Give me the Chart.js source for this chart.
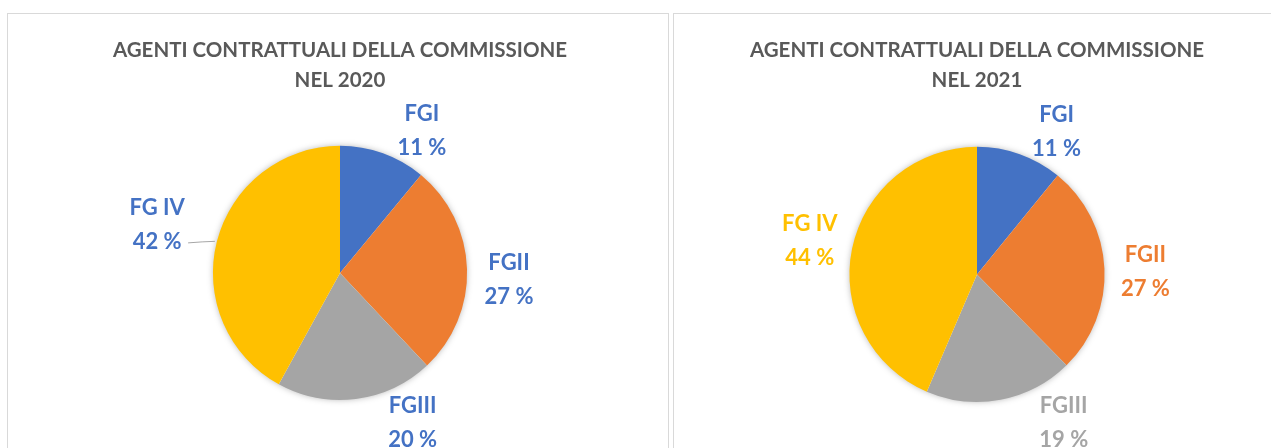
<!DOCTYPE html>
<html>
<head>
<meta charset="utf-8">
<script src="https://cdn.jsdelivr.net/npm/chart.js@4/dist/chart.umd.min.js"></script>
<style>
  body { margin: 0; background: #fff; width: 1271px; height: 448px; overflow: hidden; position: relative; }
  .pannello { position: absolute; top: 13px; height: 450px; border: 1px solid #d9d9d9; background: #fff; }
  #p2020 { left: 7px; width: 660px; }
  #p2021 { left: 673px; width: 620px; }
  canvas { position: absolute; left: 0; top: 0; }
</style>
</head>
<body>
<div class="pannello" id="p2020"><canvas id="grafico_2020" width="660" height="434"></canvas></div>
<div class="pannello" id="p2021"><canvas id="grafico_2021" width="597" height="434"></canvas></div>
<script>
const categorie = ['FGI', 'FGII', 'FGIII', 'FG IV']
const valori_2020 = [11, 27, 20, 42]
const valori_2021 = [11, 27, 19, 44]
const anni = ['2020', '2021']
const colori = ['#4472C4', '#ED7D31', '#A5A5A5', '#FFC000']

// spostamento delle etichette rispetto alla posizione sul raggio medio
const spostamenti_2020 = [[26, 13], [4, 12], [52, -14], [-23, -7]]
const spostamenti_2021 = [[24, 13], [3, 5], [56, -14], [-5, 0]]

const font_testo = 'Lato, "Liberation Sans", sans-serif'

// ombra morbida sotto la torta, come in Excel
const ombraTorta = {
    id: 'ombraTorta',
    beforeDatasetsDraw(chart) {
        const arco = chart.getDatasetMeta(0).data[0]
        if (!arco) return
        const ctx = chart.ctx
        ctx.save()
        ctx.shadowColor = 'rgba(0, 0, 0, 0.35)'
        ctx.shadowBlur = 7
        ctx.fillStyle = '#ffffff'
        ctx.beginPath()
        ctx.arc(arco.x, arco.y, arco.outerRadius - 1, 0, Math.PI * 2)
        ctx.fill()
        ctx.restore()
    }
}

const etichette = {
    id: 'etichette',
    afterDatasetsDraw(chart, args, opts) {
        const ctx = chart.ctx
        const meta = chart.getDatasetMeta(0)
        const valori = chart.data.datasets[0].data
        ctx.save()
        ctx.font = 'bold 22px ' + font_testo
        ctx.textAlign = 'center'
        ctx.textBaseline = 'middle'
        meta.data.forEach((arco, i) => {
            const medio = (arco.startAngle + arco.endAngle) / 2
            const dist = arco.outerRadius + 38
            const x = arco.x + Math.cos(medio) * dist + opts.spostamenti[i][0]
            const y = arco.y + Math.sin(medio) * dist + opts.spostamenti[i][1]
            ctx.fillStyle = opts.coloreUnico || colori[i]
            ctx.fillText(chart.data.labels[i], x, y - 17)
            ctx.fillText(valori[i] + ' %', x, y + 17)
            if (opts.linea === i) {
                const bordoX = arco.x + Math.cos(medio) * arco.outerRadius
                const bordoY = arco.y + Math.sin(medio) * arco.outerRadius
                ctx.strokeStyle = '#a6a6a6'
                ctx.lineWidth = 1
                ctx.beginPath()
                ctx.moveTo(x + 31, y + 18)
                ctx.lineTo(x + 45, y + 17)
                ctx.lineTo(bordoX - 2, bordoY)
                ctx.stroke()
            }
        })
        ctx.restore()
    }
}

function creaGrafico(id, anno, valori, spostamenti, coloreUnico, linea, padding) {
    return new Chart(document.getElementById(id).getContext('2d'), {
        type: 'pie',
        data: {
            labels: categorie,
            datasets: [{
                data: valori,
                backgroundColor: colori,
                borderWidth: 0,
                hoverOffset: 0
            }]
        },
        options: {
            responsive: false,
            animation: false,
            layout: { padding: padding },
            plugins: {
                legend: { display: false },
                tooltip: { enabled: false },
                title: {
                    display: true,
                    text: ['AGENTI CONTRATTUALI DELLA COMMISSIONE', 'NEL ' + anno],
                    color: '#595959',
                    font: { family: font_testo, size: 20.5, weight: 'bold', lineHeight: 1.46 },
                    padding: { top: 21, bottom: padding.titolo }
                },
                etichette: { spostamenti: spostamenti, coloreUnico: coloreUnico, linea: linea }
            }
        },
        plugins: [ombraTorta, etichette]
    })
}

creaGrafico('grafico_2020', anni[0], valori_2020, spostamenti_2020, '#4472C4', 3,
    { left: 4, right: 0, top: 0, bottom: 48, titolo: 51 })
creaGrafico('grafico_2021', anni[1], valori_2021, spostamenti_2021, null, -1,
    { left: 9, right: 0, top: 0, bottom: 46, titolo: 52 })
</script>
</body>
</html>
